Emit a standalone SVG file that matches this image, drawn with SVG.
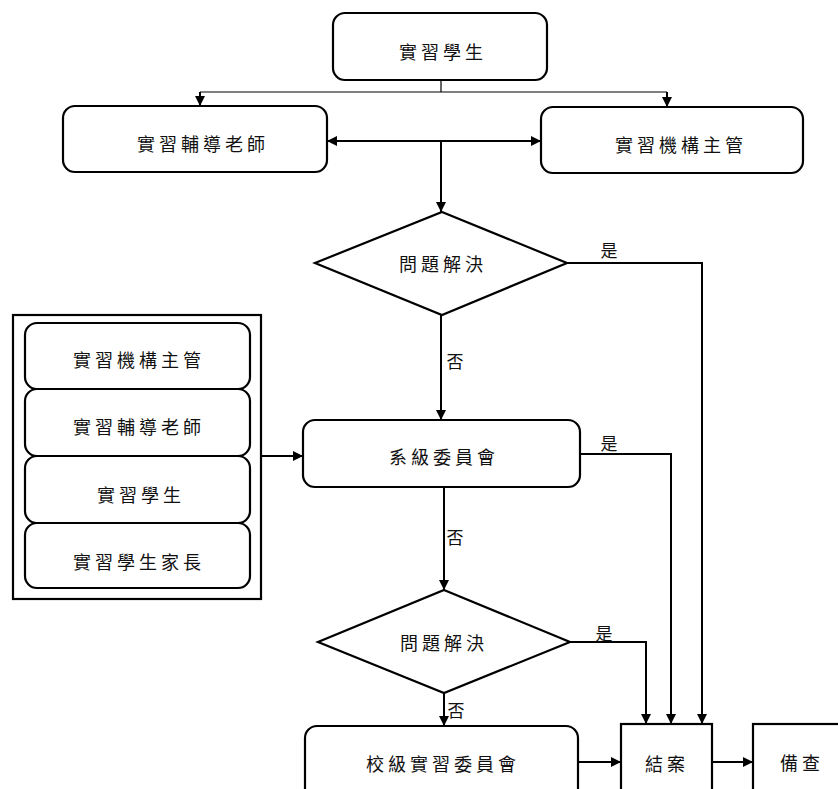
<svg xmlns="http://www.w3.org/2000/svg" width="838" height="789" viewBox="0 0 838 789">
<style>
.box{fill:#fff;stroke:#000;stroke-width:2.2}
.t{font-family:"Noto Sans CJK TC","Noto Sans CJK SC",sans-serif;font-size:18px;letter-spacing:4px;text-anchor:middle;dominant-baseline:central;fill:#111}
.l{font-family:"Noto Sans CJK TC","Noto Sans CJK SC",sans-serif;font-size:17px;text-anchor:middle;dominant-baseline:central;fill:#111}
.c{fill:none;stroke:#000;stroke-width:2}
.thin{fill:none;stroke:#000;stroke-width:1.2}
</style>
<defs>
<marker id="a" viewBox="0 0 10 10" refX="10" refY="5" markerWidth="11" markerHeight="10" markerUnits="userSpaceOnUse" orient="auto">
<path d="M0,0 L10,5 L0,10 Z" fill="#000"/>
</marker>
</defs>
<rect width="838" height="789" fill="#fff"/>
<g id="connectors">
<path class="thin" d="M441,80 V92"/>
<path class="thin" d="M200,92 H667"/>
<path class="c" d="M200,92 V106" marker-end="url(#a)"/>
<path class="c" d="M667,92 V107" marker-end="url(#a)"/>
<path class="c" d="M441,141 H327" marker-end="url(#a)"/>
<path class="c" d="M441,141 H541" marker-end="url(#a)"/>
<path class="c" d="M441,141 V212" marker-end="url(#a)"/>
<path class="c" d="M567,263 H702 V724" marker-end="url(#a)"/>
<path class="c" d="M441,315 V420" marker-end="url(#a)"/>
<path class="c" d="M261,456 H303" marker-end="url(#a)"/>
<path class="c" d="M580,454 H671 V724" marker-end="url(#a)"/>
<path class="c" d="M444,487 V590" marker-end="url(#a)"/>
<path class="c" d="M570,642 H646 V724" marker-end="url(#a)"/>
<path class="c" d="M444,693 V726" marker-end="url(#a)"/>
<path class="c" d="M578,762 H621" marker-end="url(#a)"/>
<path class="c" d="M712,762 H753" marker-end="url(#a)"/>
<text class="l" x="609" y="249">是</text>
<text class="l" x="609" y="442">是</text>
<text class="l" x="604" y="632">是</text>
<text class="l" x="455" y="360">否</text>
<text class="l" x="455" y="536">否</text>
<text class="l" x="456" y="709">否</text>
</g>
<g id="n-student">
<rect class="box" x="333" y="13" width="214" height="67" rx="12"/>
<text class="t" x="443" y="51">實習學生</text>
</g>
<g id="n-teacher">
<rect class="box" x="63" y="106" width="264" height="66" rx="12"/>
<text class="t" x="203" y="143">實習輔導老師</text>
</g>
<g id="n-supervisor">
<rect class="box" x="541" y="107" width="262" height="66" rx="12"/>
<text class="t" x="681" y="144">實習機構主管</text>
</g>
<g id="n-decision1">
<polygon class="box" points="442,212 567,263 442,315 315,263"/>
<text class="t" x="443" y="263">問題解決</text>
</g>
<g id="n-group">
<rect class="box" x="13" y="315" width="248" height="284"/>
<rect class="box" x="25" y="323" width="225" height="66" rx="12"/>
<text class="t" x="139" y="359">實習機構主管</text>
<rect class="box" x="25" y="389" width="225" height="67" rx="12"/>
<text class="t" x="139" y="426">實習輔導老師</text>
<rect class="box" x="25" y="456" width="225" height="67" rx="12"/>
<text class="t" x="141" y="494">實習學生</text>
<rect class="box" x="25" y="523" width="225" height="65" rx="12"/>
<text class="t" x="139" y="561">實習學生家長</text>
</g>
<g id="n-dept">
<rect class="box" x="303" y="420" width="277" height="67" rx="12"/>
<text class="t" x="444" y="456">系級委員會</text>
</g>
<g id="n-decision2">
<polygon class="box" points="444,590 570,642 444,693 318,642"/>
<text class="t" x="444" y="642">問題解決</text>
</g>
<g id="n-school">
<rect class="box" x="305" y="726" width="273" height="90" rx="12"/>
<text class="t" x="443" y="763">校級實習委員會</text>
</g>
<g id="n-close">
<rect class="box" x="621" y="724" width="91" height="90"/>
<text class="t" x="667" y="763">結案</text>
</g>
<g id="n-archive">
<rect class="box" x="753" y="724" width="100" height="90"/>
<text class="t" x="802" y="762">備查</text>
</g>
</svg>
